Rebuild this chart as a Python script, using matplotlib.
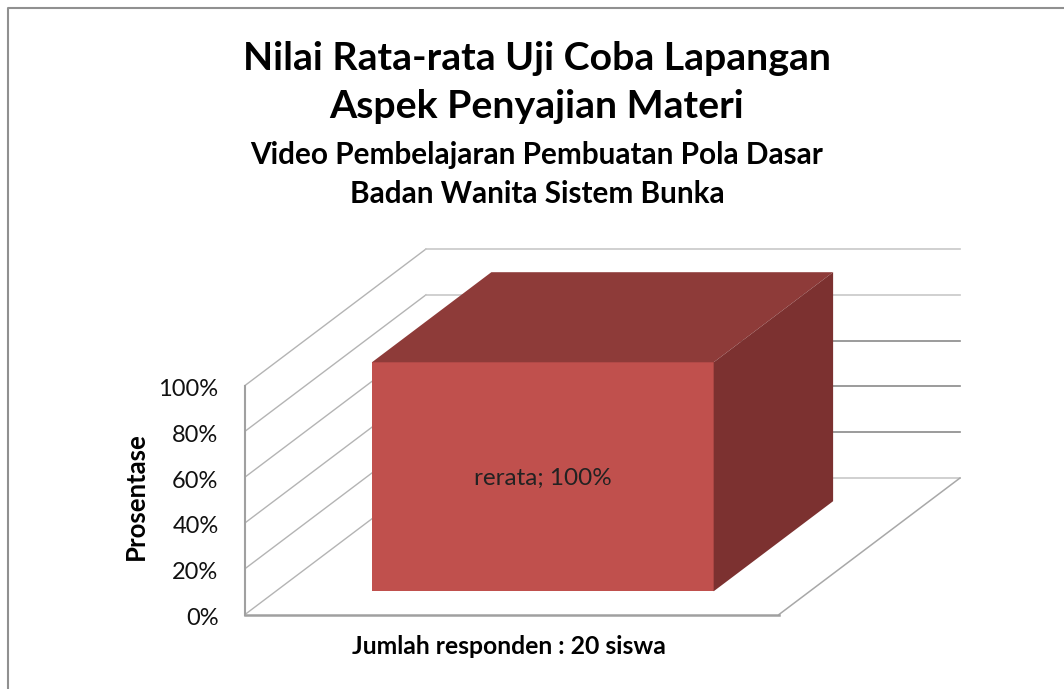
#! /usr/bin/env python

import matplotlib
matplotlib.use('Agg')
import matplotlib.pyplot as plt
from matplotlib.lines import Line2D
from matplotlib.patches import Polygon
from matplotlib.transforms import ScaledTranslation

plt.rcParams['font.family'] = ['Lato', 'DejaVu Sans']

title_lines = ['Nilai Rata-rata Uji Coba Lapangan', 'Aspek Penyajian Materi']
subtitle_lines = ['Video Pembelajaran Pembuatan Pola Dasar', 'Badan Wanita Sistem Bunka']
categories = ['rerata']
values = [100]
ticks = [0, 20, 40, 60, 80, 100]
tick_labels = ['0%', '20%', '40%', '60%', '80%', '100%']
ylabel = 'Prosentase'
xlabel = 'Jumlah responden : 20 siswa'

W, H = 1064, 689
# front plane of the chart in pixels
LEFT, RIGHT, BOTTOM, TOP = 245, 779, 614.5, 385.5
# oblique shift of the back wall, in axes data units
DX = 181 / (RIGHT - LEFT)
DY = 136.5 / (BOTTOM - TOP) * 100
# bar extent along width and depth
BAR_X = (0.18, 0.82)
BAR_D = (0.17, 0.83)


def project(x, y, d):
    return (x + d * DX, y + d * DY)


def main():
    fig = plt.figure(figsize=(W / 100, H / 100), dpi=100)
    # only the top and left edges of the frame are inside the picture
    fig.add_artist(Line2D([7.5 / W, 7.5 / W, 1], [0, 1 - 7.5 / H, 1 - 7.5 / H],
                          transform=fig.transFigure, color='#909090', linewidth=1.5))

    ax = fig.add_axes([LEFT / W, 1 - BOTTOM / H, (RIGHT - LEFT) / W, (BOTTOM - TOP) / H])
    ax.set_xlim(0, 1)
    ax.set_ylim(0, 100)
    ax.patch.set_visible(False)
    for s in ['top', 'right', 'bottom']:
        ax.spines[s].set_visible(False)
    ax.spines['left'].set_color('#a0a0a0')
    ax.spines['left'].set_linewidth(1.5)

    ax.set_yticks(ticks)
    ax.set_yticklabels(tick_labels, fontsize=17, color='#111111')
    ax.tick_params(axis='y', length=0, pad=19)
    ax.set_xticks([])
    # labels sit a little under their level
    shift = ScaledTranslation(0, -2 / 100, fig.dpi_scale_trans)
    for lab in ax.get_yticklabels():
        lab.set_transform(lab.get_transform() + shift)

    # walls: diagonal lines on the side wall, level lines on the back wall
    for t in ticks:
        x0, y0 = project(0, t, 0)
        x1, y1 = project(0, t, 1)
        ax.plot([x0, x1], [y0, y1], color='#b4b4b4', lw=1.0, clip_on=False, zorder=1)
        x2, y2 = project(1, t, 1)
        grid_col = '#8a8a8a' if t in (20, 40, 60) else '#c8c8c8'
        ax.plot([x1, x2], [y1, y2], color=grid_col, lw=1.2, clip_on=False, zorder=1)
    # floor
    ax.plot([0, 1], [0, 0], color='#a0a0a0', lw=1.8, clip_on=False, zorder=2)
    x1, y1 = project(1, 0, 1)
    ax.plot([1, x1], [0, y1], color='#a8a8a8', lw=1.1, clip_on=False, zorder=1)

    # the bar
    v = values[0]
    xa, xb = BAR_X
    da, db = BAR_D
    front = [project(xa, 0, da), project(xb, 0, da), project(xb, v, da), project(xa, v, da)]
    top = [project(xa, v, da), project(xb, v, da), project(xb, v, db), project(xa, v, db)]
    side = [project(xb, 0, da), project(xb, 0, db), project(xb, v, db), project(xb, v, da)]
    ax.add_patch(Polygon(front, facecolor='#c0504d', edgecolor='none', clip_on=False, zorder=5))
    ax.add_patch(Polygon(top, facecolor='#8e3b39', edgecolor='none', clip_on=False, zorder=5))
    ax.add_patch(Polygon(side, facecolor='#7c3130', edgecolor='none', clip_on=False, zorder=5))

    cx = (front[0][0] + front[1][0]) / 2
    cy = (front[0][1] + front[2][1]) / 2
    ax.annotate('%s; %d%%' % (categories[0], v), (cx, cy), xytext=(0, -2),
                textcoords='offset pixels', ha='center', va='center',
                fontsize=17.5, color='#222222', zorder=6)

    # titles
    for text, py in zip(title_lines, [58, 106]):
        fig.text(537 / W, 1 - py / H, text, ha='center', va='center', fontsize=28.3,
                 fontweight='bold', color='black')
    for text, py in zip(subtitle_lines, [155, 194]):
        fig.text(537 / W, 1 - py / H, text, ha='center', va='center', fontsize=21.4,
                 fontweight='bold', color='black')

    fig.text(136 / W, 1 - 496 / H, ylabel, rotation=90, ha='center', va='center',
             fontsize=18.5, fontweight='bold', color='black')
    fig.text(509 / W, 1 - 646 / H, xlabel, ha='center', va='center',
             fontsize=17.8, fontweight='bold', color='black')

    fig.savefig('out.png', dpi=100)


main()
